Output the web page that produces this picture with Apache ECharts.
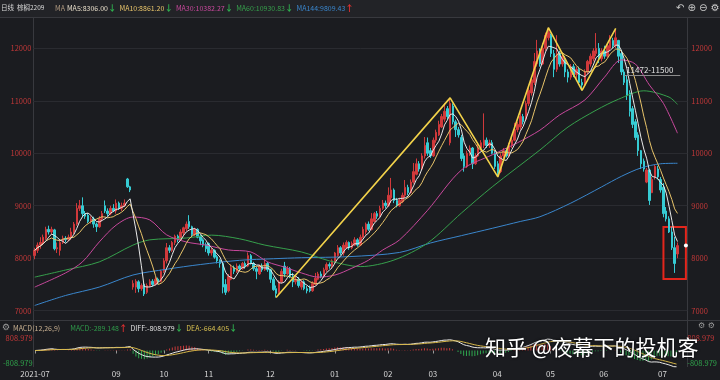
<!DOCTYPE html>
<html><head><meta charset="utf-8">
<script src="https://cdn.jsdelivr.net/npm/echarts@6/dist/echarts.min.js"></script>
<style>html,body{margin:0;padding:0;background:#1b1c20;}#c{width:720px;height:380px;}</style>
</head><body><div id="c"></div>
<script>
// ---------- DATA ----------
const monthDays = [
 ['2021-07','22 23 26 27 28 29 30'],
 ['2021-08','2 3 4 5 6 9 10 11 12 13 16 17 18 19 20 23 24 25 26 27 30 31'],
 ['2021-09','1 2 3 6 7 8 9 10 13 14 15 16 17 22 23 24 27'],
 ['2021-10','8 11 12 13 14 15 18 19 20 21 22 25 26 27 28 29'],
 ['2021-11','1 2 3 4 5 8 9 10 11 12 15 16 17 18 19 22 23 24 25 26 29 30'],
 ['2021-12','1 2 3 6 7 8 9 10 13 14 15 16 17 20 21 22 23 24 27 28 29 30 31'],
 ['2022-01','4 5 6 7 10 11 12 13 14 17 18 19 20 21 24 25 26 27 28'],
 ['2022-02','7 8 9 10 11 14 15 16 17 18 21 22 23 24 25 28'],
 ['2022-03','1 2 3 4 7 8 9 10 11 14 15 16 17 18 21 22 23 24 25 28 29 30 31'],
 ['2022-04','1 6 7 8 11 12 13 14 15 18 19 20 21 22 25 26 27 28 29'],
 ['2022-05','5 6 9 10 11 12 13 16 17 18 19 20 23 24 25 26 27 30 31'],
 ['2022-06','1 2 6 7 8 9 10 13 14 15 16 17 20 21 22 23 24 27 28 29 30'],
 ['2022-07','1 4 5 6 7 8']
];
// months whose first day carries a label on the time axis
const labelledMonths = ['2021-07','2021-09','2021-10','2021-11','2021-12','2022-01','2022-02','2022-03','2022-04','2022-05','2022-06','2022-07'];
// [open, close, low, high]
const ohlc = [
[8050,8150,7980,8200],[8150,8250,8100,8300],[8250,8300,8180,8400],[8280,8400,8250,8450],[8380,8550,8350,8600],
[8550,8500,8450,8620],[8500,8550,8450,8600],[8540,8180,8150,8560],[8180,8200,8100,8300],[8150,8300,8050,8330],
[8300,8380,8270,8430],[8380,8350,8300,8420],[8350,8400,8320,8450],[8400,8500,8350,8580],[8500,8650,8450,8690],
[8650,8950,8620,9050],[8950,9000,8900,9110],[9000,8850,8780,9160],[8850,8800,8750,8900],[8820,8700,8670,8860],
[8700,8750,8660,8800],[8750,8650,8580,8790],[8650,8600,8500,8680],[8600,8750,8580,8800],[8750,8850,8700,8900],
[9000,8900,8860,9100],[8900,8850,8800,8950],[8850,8950,8820,9000],[8950,8900,8880,9030],[8900,9050,8850,9120],
[9050,8950,8920,9080],[8950,9000,8900,9060],[9000,9050,8980,9120],[9510,9360,9340,9530],[9360,9300,9260,9380],
[7450,7520,7400,7580],[7450,7560,7340,7600],[7550,7420,7350,7580],[7420,7480,7380,7520],[7500,7320,7280,7540],
[7350,7480,7320,7520],[7480,7560,7450,7600],[7560,7500,7460,7600],[7500,7600,7480,7640],[7600,7550,7500,7630],
[7560,7750,7540,7780],[7750,7950,7720,8000],[7950,8200,7900,8290],[8200,8150,8100,8250],[8150,8300,8120,8330],
[8300,8420,8250,8450],[8420,8350,8300,8450],[8350,8500,8330,8550],[8480,8580,8420,8600],[8560,8650,8520,8700],
[8700,8600,8560,8820],[8600,8450,8400,8620],[8450,8550,8420,8580],[8550,8400,8380,8570],[8420,8330,8250,8450],
[8350,8250,8210,8380],[8260,8180,8120,8300],[8280,8100,8050,8300],[8100,8150,8050,8200],[8150,8020,7990,8170],
[8030,7950,7900,8060],[7960,7900,7820,7980],[7900,7450,7330,7930],[7500,7350,7300,7600],[7380,7650,7350,7700],
[7600,7820,7580,7880],[7820,7750,7700,7860],[7750,7850,7720,7900],[7850,7800,7760,7880],[7800,7900,7780,7930],
[7900,7850,7800,7940],[7850,8050,7830,8110],[8050,7900,7880,8080],[7900,7800,7760,7930],[7800,7750,7600,7840],
[7700,7850,7680,7880],[7850,7780,7740,7900],[7780,7900,7760,8000],[7900,7780,7740,7930],[7780,7600,7530,7800],
[7600,7400,7380,7640],[7420,7330,7250,7480],[7350,7550,7320,7580],[7550,7750,7520,7800],[7850,7700,7640,7930],
[7700,7800,7680,7850],[7800,7650,7620,7830],[7650,7550,7450,7720],[7550,7600,7500,7660],[7600,7480,7440,7640],
[7450,7550,7400,7580],[7550,7420,7390,7580],[7420,7380,7330,7470],[7450,7380,7350,7480],[7380,7520,7360,7560],
[7500,7620,7480,7720],[7600,7700,7580,7740],[7700,7650,7620,7750],[7650,7780,7630,7820],[7780,7880,7740,7920],
[7880,7850,7800,7920],[7850,7950,7800,7980],[7950,8100,7900,8120],[8050,8200,8020,8250],[8200,8100,8060,8230],
[8100,8250,8050,8300],[8200,8300,8180,8340],[8300,8200,8160,8320],[8200,8280,8170,8320],[8250,8350,8230,8400],
[8350,8250,8220,8380],[8250,8400,8230,8450],[8400,8550,8380,8600],[8500,8650,8450,8680],[8650,8550,8520,8700],
[8550,8750,8530,8860],[8700,8850,8680,8880],[8850,8800,8750,8900],[8800,8950,8780,9000],[8950,9050,8920,9110],
[9050,9000,8950,9100],[9000,9200,8980,9350],[9150,9300,9050,9530],[9300,9100,9050,9330],[9100,9000,8970,9150],
[9000,9100,8980,9150],[9080,9200,9050,9250],[9200,9350,9150,9490],[9350,9250,9200,9400],[9250,9450,9230,9500],
[9450,9650,9420,9815],[9600,9800,9580,9900],[9800,9700,9650,9850],[9700,9950,9680,10000],[9950,10150,9900,10310],
[10200,10000,9950,10300],[10050,9950,9910,10100],[9950,10250,9930,10300],[10250,10400,10200,10450],[10350,10550,10330,10620],
[10500,10700,10480,10750],[10650,10800,10600,10960],[10850,10700,10650,10900],[10200,10950,10150,11055],[10900,10600,10550,10950],
[10600,10450,10310,10640],[10450,10350,10300,10500],[10300,9900,9850,10350],[9950,9750,9650,10000],[9750,10000,9720,10050],
[10000,10100,9950,10150],[10100,9800,9700,10120],[9800,9950,9780,10000],[9950,10100,9930,10200],[10100,10200,10050,10250],
[10150,10250,10100,10760],[10250,10150,10100,10300],[10150,10200,10100,10260],[10200,10000,9980,10250],[10000,9750,9700,10050],
[9800,9620,9550,9850],[9650,9950,9620,10000],[9950,10050,9900,10100],[10050,9950,9920,10100],[9950,10150,9930,10200],
[10150,10250,10100,10300],[10250,10450,10230,10580],[10450,10550,10400,10600],[10500,10700,10450,10825],[10700,10600,10550,10750],
[10650,10950,10620,11000],[10950,11200,10900,11250],[11150,11400,11100,11450],[11350,11750,11300,11910],[11700,11950,11650,12160],
[11950,11700,11650,12000],[11700,12000,11680,12100],[12000,12250,11950,12300],[12200,12300,12150,12392],[12250,11900,11835,12280],
[11900,11600,11450,11970],[11600,11900,11550,12250],[11900,11700,11650,11950],[11700,11850,11650,11900],[11800,11550,11450,11850],
[11550,11450,11350,11600],[11450,11650,11400,11700],[11650,11500,11450,11700],[11500,11600,11420,11650],[11600,11350,11300,11650],
[11350,11300,11200,11420],[11300,11550,11280,11600],[11550,11750,11500,11780],[11700,11850,11650,11900],[11800,11950,11750,12000],
[11900,12000,11850,12290],[12000,11800,11720,12100],[11800,11950,11750,12000],[11950,11850,11800,12050],[11850,12050,11820,12100],
[12000,12150,11950,12250],[12150,12050,12000,12200],[12050,12200,12000,12350],[12150,11850,11720,12160],[11900,11550,11490,11970],
[11550,11350,11300,11600],[11400,11100,11016,11490],[11150,10800,10700,11200],[10850,10550,10480,10900],[10600,10300,10250,10650],
[10350,10050,9950,10400],[10050,9800,9700,10063],[9850,9700,9650,9900],[9450,9680,9430,9720],[9680,9100,9015,9700],
[9250,9500,9240,9550],[9550,9750,9500,9780],[9700,9550,9500,9760],[9500,9300,9250,9550],[9350,8850,8780,9430],
[8900,8750,8700,8975],[8750,8500,8480,8800],[8500,8200,8157,8600],[8200,7900,7720,8405],[8080,8240,8000,8300]
];
// long moving averages: [day index, value]
const ma30 = [[0,7450],[11,7720],[17,7930],[23,8310],[29,8630],[35,8785],[41,8730],[47,8445],[54,8310],[61,8250],[69,8157],[77,8120],[83,7930],[89,7830],[95,7720],[101,7640],[107,7680],[113,7810],[119,7965],[124,8157],[130,8350],[140,8915],[152,9680],[163,9970],[172,10200],[180,10440],[187,10730],[196,11016],[203,11450],[209,11780],[214,11700],[219,11300],[224,10950],[229,10382.27]];
const ma60 = [[0,7640],[11,7775],[23,7930],[35,8250],[41,8350],[54,8385],[63,8440],[73,8370],[82,8250],[95,8120],[105,7950],[116,7840],[128,7965],[140,8290],[152,8860],[163,9360],[180,10063],[190,10500],[200,10820],[208,11030],[217,11190],[226,11070],[229,10930.83]];
const ma144 = [[0,7100],[11,7290],[23,7450],[35,7680],[47,7790],[59,7880],[73,7960],[85,7990],[95,8010],[112,8030],[130,8110],[141,8290],[152,8430],[163,8570],[173,8700],[180,8790],[191,9050],[202,9360],[209,9560],[216,9720],[223,9800],[229,9809.43]];
// hand-drawn wave line: [day index, price]
const wave = [[86,7250],[148,11055],[165,9550],[183,12392],[195,11200],[207,12380]];
const waveLabelled = [86,183];
const zoneText = '11472-11500', zoneValue = 11486, zoneFrom = 210, zoneTo = 230;
const boxFrom = [224, 8595], boxTo = [232, 7604];
const lastMark = [232, 8240];
const priceTicks = {min:7000, max:12000, step:1000};
const macdRange = 808.979;
const maLegend = [['MA5','8306.00','dn'],['MA10','8861.20','dn'],['MA30','10382.27','dn'],['MA60','10930.83','dn'],['MA144','9809.43','up']];
const macdLegend = [['MACD:-289.148','up'],['DIFF:-808.979','dn'],['DEA:-664.405','dn']];
const macdName = 'MACD(12,26,9)';
const title = ['日线','棕榈2209','MA'];
const watermark = '知乎 @夜幕下的投机客';
const padDays = 3;

// ---------- BUILD ----------
const cats = [];
monthDays.forEach(([m, s]) => s.split(' ').forEach(d => cats.push(m + '-' + (d.length < 2 ? '0' + d : d))));
for (let i = 0; i < padDays; i++) cats.push('pad' + i);
const monthStart = cats.map((c, i) => i < ohlc.length && (i === 0 || c.slice(0, 7) !== cats[i - 1].slice(0, 7)) && labelledMonths.includes(c.slice(0, 7)));
const closes = ohlc.map(r => r[1]);
function movingAvg(n) {
  return closes.map((c, i) => { const s = Math.max(0, i - n + 1); let t = 0; for (let k = s; k <= i; k++) t += closes[k]; return +(t / (i - s + 1)).toFixed(2); });
}
const ma5 = movingAvg(5), ma10 = movingAvg(10);
let e12 = closes[0], e26 = closes[0], dea = 0;
const diffArr = [], deaArr = [], barArr = [];
closes.forEach(c => {
  e12 = e12 * 11 / 13 + c * 2 / 13; e26 = e26 * 25 / 27 + c * 2 / 27;
  const d = e12 - e26; dea = dea * 0.8 + d * 0.2;
  diffArr.push(+d.toFixed(3)); deaArr.push(+dea.toFixed(3)); barArr.push(+(2 * (d - dea)).toFixed(3));
});

const C = {bg:'#1b1c20', up:'#d0393b', dn:'#36cbd3', ma5:'#e8e8e8', ma10:'#e8c46a', ma30:'#c8489c', ma60:'#36a04c', ma144:'#3a86cc', wave:'#f2d24a', axisRed:'#c03838', grid:'#2a2b30', frame:'#38393e', upArrow:'#e03030', dnArrow:'#2fb04f'};
const FF = '"Noto Sans CJK SC", "Liberation Sans", sans-serif';
const FS = 7;
const tok = (fill, extra) => Object.assign({fill, color:fill, fontSize:FS, fontFamily:FF}, extra || {});

// header rich text (MA legend)
const legColors = ['#e6dcc8', C.ma10, C.ma30, C.ma60, C.ma144];
let legText = '{g|' + title[2] + '}{s2| }';
const legRich = {g:tok('#b09a80'), s2:tok('#000', {width:2}), sp:tok('#000', {width:3}), up:tok(C.upArrow, {fontSize:8.5, fontWeight:'bold'}), dn:tok(C.dnArrow, {fontSize:8.5, fontWeight:'bold'})};
maLegend.forEach(([k, v, d], i) => {
  legRich['m' + i] = tok(legColors[i]);
  legText += '{m' + i + '|' + k + ':' + v + '}{' + d + '|' + (d === 'up' ? '↑' : '↓') + '}{sp| }';
});
const macdColors = ['#2f9a4a', '#e0e0e0', '#d8c050'];
let macdText = '{g|' + macdName + '}{sp2| }';
const macdRich = {g:tok('#c8b090'), sp:tok('#000', {width:3}), sp2:tok('#000', {width:10}), up:tok(C.upArrow, {fontSize:8.5, fontWeight:'bold'}), dn:tok(C.dnArrow, {fontSize:8.5, fontWeight:'bold'})};
macdLegend.forEach(([s, d], i) => {
  macdRich['m' + i] = tok(macdColors[i]);
  macdText += '{m' + i + '|' + s + '}{' + d + '|' + (d === 'up' ? '↑' : '↓') + '}{sp| }';
});

const lineS = (name, data, color, smooth) => ({name, type:'line', xAxisIndex:0, yAxisIndex:0, data, showSymbol:false, smooth: smooth ? 0.3 : false, clip:false, silent:true, lineStyle:{color, width:1}, itemStyle:{color}, z:3});
const macdLabel = {fontSize:7.5, margin:1, color:(v) => v > 0 ? C.axisRed : '#2fa04a', formatter:(v) => Math.abs(v) < 1 ? '' : v.toFixed(3), verticalAlignMaxLabel:'top', verticalAlignMinLabel:'bottom'};

const chart = echarts.init(document.getElementById('c'), null, {renderer:'canvas'});
const option = {
  backgroundColor: C.bg,
  animation: false,
  textStyle: {fontFamily: FF},
  grid: [
    {left:33.3, right:32.7, top:48.3, bottom:69.3},
    {left:33.3, right:32.7, top:334, bottom:13}
  ],
  xAxis: [
    {type:'category', gridIndex:0, data:cats, axisLine:{show:false}, axisTick:{show:false}, axisLabel:{show:false}, splitLine:{show:false}},
    {type:'category', gridIndex:1, data:cats, axisLine:{show:false},
     axisTick:{show:true, alignWithLabel:true, length:3, interval:(i) => monthStart[i], lineStyle:{color:'#9a9a9a'}},
     axisLabel:{interval:(i) => monthStart[i], formatter:(v, i) => i === 0 ? v.slice(0, 7) : v.slice(5, 7), color:'#d6d6d6', fontSize:8, margin:3, fontFamily:FF}}
  ],
  yAxis: [
    {type:'value', gridIndex:0, position:'left', min:priceTicks.min, max:priceTicks.max, interval:priceTicks.step, axisLine:{show:false}, axisTick:{show:false}, axisLabel:{color:C.axisRed, fontSize:7.5, margin:2, formatter:(v) => String(v)}, splitLine:{lineStyle:{color:C.grid, width:1}}},
    {type:'value', gridIndex:0, position:'right', min:priceTicks.min, max:priceTicks.max, interval:priceTicks.step, axisLine:{show:false}, axisTick:{show:false}, axisLabel:{color:C.axisRed, fontSize:7.5, margin:4, formatter:(v) => String(v)}, splitLine:{show:false}},
    {type:'value', gridIndex:1, position:'left', min:-macdRange, max:macdRange, interval:macdRange, axisLine:{show:false}, axisTick:{show:false}, splitLine:{show:false}, axisLabel:macdLabel},
    {type:'value', gridIndex:1, position:'right', min:-macdRange, max:macdRange, interval:macdRange, axisLine:{show:false}, axisTick:{show:false}, splitLine:{show:false}, axisLabel:macdLabel}
  ],
  series: [
    {type:'candlestick', xAxisIndex:0, yAxisIndex:0, data:ohlc.map(r => [r[0], r[1], r[2], r[3]]), barWidth:2, clip:false, silent:true, z:2,
     itemStyle:{color:C.up, color0:C.dn, borderColor:C.up, borderColor0:C.dn, borderWidth:1},
     markArea:{silent:true, itemStyle:{color:'rgba(0,0,0,0)', borderColor:'#e3261c', borderWidth:2},
       data:[[{xAxis:boxFrom[0], yAxis:boxFrom[1]}, {xAxis:boxTo[0], yAxis:boxTo[1]}]]},
     markLine:{silent:true, symbol:['none','none'], lineStyle:{color:'#8c8c8c', width:1, type:'solid'},
       label:{show:true, position:'insideStartTop', formatter:zoneText, color:'#e0e0e0', fontSize:8, distance:[2, 1]},
       data:[[{coord:[zoneFrom, zoneValue]}, {coord:[zoneTo, zoneValue]}]]},
     markPoint:{silent:true, symbol:'circle', symbolSize:4, itemStyle:{color:'#ffffff'}, label:{show:false}, data:[{coord:lastMark}]}
    },
    lineS('MA144', ma144, C.ma144, true),
    lineS('MA60', ma60, C.ma60, true),
    lineS('MA30', ma30, C.ma30, true),
    lineS('MA10', ma10, C.ma10, false),
    lineS('MA5', ma5, C.ma5, false),
    {type:'line', xAxisIndex:0, yAxisIndex:0, clip:false, silent:true, z:5, showSymbol:false, symbol:'none',
     lineStyle:{color:C.wave, width:1.6}, itemStyle:{color:C.wave},
     data: wave.map(p => waveLabelled.includes(p[0]) ? {value:p, label:{show:true, position:'right', distance:1, formatter:(q) => '—' + q.value[1].toFixed(2), color:'#e6e6e6', fontSize:8}} : {value:p})},
    {type:'bar', xAxisIndex:1, yAxisIndex:2, data:barArr, barWidth:1, silent:true,
     itemStyle:{color:(p) => p.value >= 0 ? '#c83a3a' : '#2fa84f'}},
    {type:'line', xAxisIndex:1, yAxisIndex:2, data:diffArr, showSymbol:false, clip:false, silent:true, lineStyle:{color:'#e8e8e8', width:1}},
    {type:'line', xAxisIndex:1, yAxisIndex:2, data:deaArr, showSymbol:false, clip:false, silent:true, lineStyle:{color:'#d8b84a', width:1}}
  ],
  graphic: [
    {type:'rect', left:0, top:0, shape:{width:720, height:17}, style:{fill:'#222327'}, silent:true, z:-1},
    {type:'line', shape:{x1:0, y1:17.5, x2:720, y2:17.5}, style:{stroke:C.frame, lineWidth:1}, silent:true},
    {type:'line', shape:{x1:0, y1:320.5, x2:720, y2:320.5}, style:{stroke:C.frame, lineWidth:1}, silent:true},
    {type:'line', shape:{x1:33.5, y1:18, x2:33.5, y2:367}, style:{stroke:C.frame, lineWidth:1}, silent:true},
    {type:'line', shape:{x1:687.5, y1:18, x2:687.5, y2:367}, style:{stroke:C.frame, lineWidth:1}, silent:true},
    {type:'text', x:1, y:8, silent:true, style:{text:title[0], fill:'#d8d8d8', fontSize:6.5, fontFamily:FF, textVerticalAlign:'middle'}},
    {type:'text', x:17, y:8, silent:true, style:{text:title[1], fill:'#d8d8d8', fontSize:6.5, fontFamily:FF, textVerticalAlign:'middle'}},
    {type:'text', x:55, y:8, silent:true, style:{text:legText, rich:legRich, fontSize:FS, fontFamily:FF, textVerticalAlign:'middle'}},
    {type:'text', x:13, y:328, silent:true, style:{text:macdText, rich:macdRich, fontSize:FS, fontFamily:FF, textVerticalAlign:'middle'}},
    {type:'text', x:676, y:3, style:{text:'↶ ⊕ ⊖ ⚙', fill:'#c8c8c8', fontSize:10, fontFamily:'DejaVu Sans'}, silent:true},
    {type:'text', x:2, y:323, style:{text:'⚙', fill:'#9a9a9a', fontSize:9, fontFamily:'DejaVu Sans'}, silent:true},
    {type:'text', x:698, y:322, style:{text:'⚙ ⚙', fill:'#9a9a9a', fontSize:8, fontFamily:'DejaVu Sans'}, silent:true},
    {type:'text', x:485, y:337, style:{text:watermark, fill:'#ffffff', fontSize:21, fontFamily:'"Noto Sans CJK SC"', textShadowColor:'rgba(0,0,0,0.9)', textShadowBlur:3}, silent:true, z:100}
  ]
};
chart.setOption(option);
</script></body></html>
